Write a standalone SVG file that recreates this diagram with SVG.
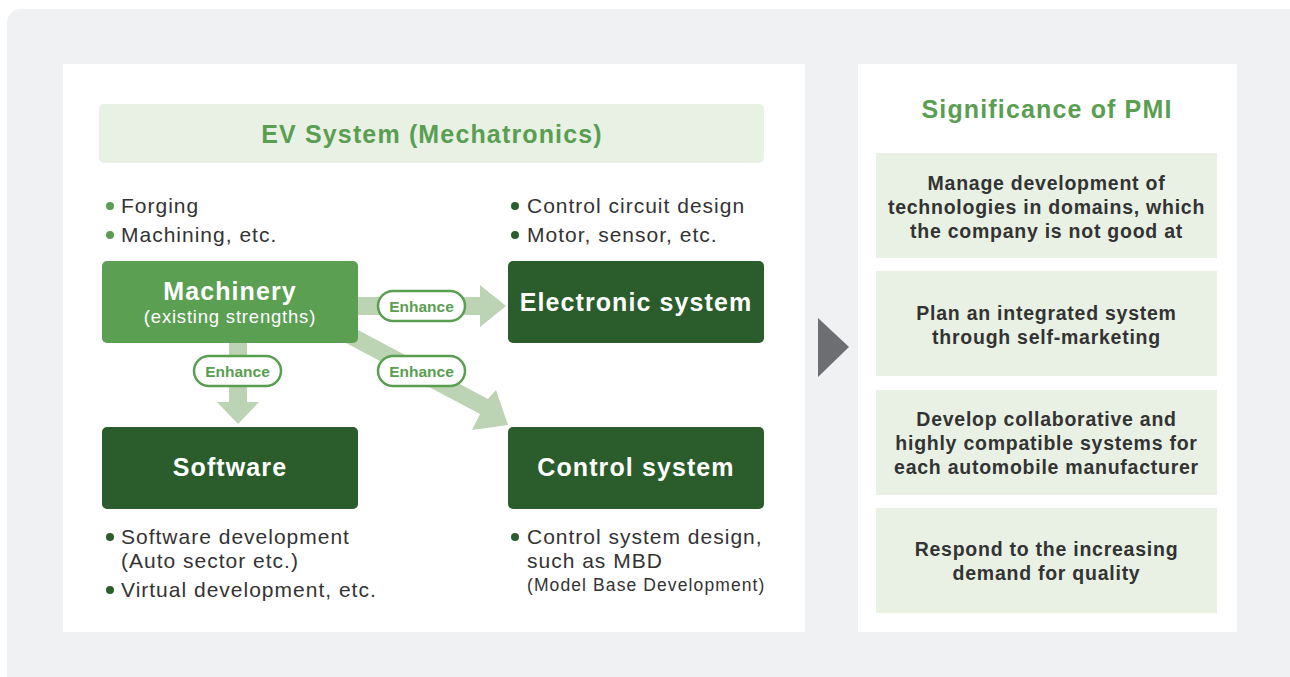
<svg xmlns="http://www.w3.org/2000/svg" width="1290" height="677" viewBox="0 0 1290 677">
<defs>
<style>
text{font-family:"Liberation Sans",Arial,sans-serif}
.title{font-size:25px;font-weight:bold;fill:#5a9e52;text-anchor:middle;letter-spacing:1.15px}
.bul{font-size:21px;fill:#333;letter-spacing:1px}
.bsm{font-size:17.5px;fill:#333;letter-spacing:1.1px}
.dl{fill:#5a9e52}
.dd{fill:#2a5e2c}
.bx{font-size:25px;font-weight:bold;fill:#fff;text-anchor:middle;letter-spacing:1.1px}
.pill{fill:#fff;stroke:#5a9e52;stroke-width:2.5}
.pt{font-size:15.5px;font-weight:bold;fill:#5a9e52;text-anchor:middle}
.arr{fill:#bcd3b4}
.pb{fill:#e8f1e4}
.pmt{font-size:19.5px;font-weight:bold;fill:#333;text-anchor:middle;letter-spacing:0.75px}
</style>
</defs>
<rect x="7" y="9" width="1300" height="690" rx="14" fill="#f0f1f3"/>
<rect x="63" y="64" width="742" height="568" fill="#fff"/>
<rect x="858" y="64" width="379" height="568" fill="#fff"/>

<g id="header">
<rect x="99" y="104" width="665" height="59" rx="5" fill="#e8f1e4"/>
<text class="title" x="432" y="143">EV System (Mechatronics)</text>
</g>

<g id="connectors">
<path class="arr" d="M358,297 L480,297 L480,285 L506,306 L480,327 L480,315 L358,315 Z"/>
<path class="arr" d="M229,343 L247,343 L247,402 L259,402 L238,424 L217,402 L229,402 Z"/>
<path class="arr" d="M350,336 L358,330 L488,399 L496,390 L508,425 L472,430 L480,414 L346,343 Z"/>
<g id="enh1"><rect class="pill" x="378" y="291" width="87" height="30" rx="15"/><text class="pt" x="421.5" y="311.5">Enhance</text></g>
<g id="enh2"><rect class="pill" x="194" y="356" width="87" height="30" rx="15"/><text class="pt" x="237.5" y="376.5">Enhance</text></g>
<g id="enh3"><rect class="pill" x="378" y="356" width="87" height="30" rx="15"/><text class="pt" x="421.5" y="376.5">Enhance</text></g>
</g>

<g id="machinery">
<rect x="102" y="261" width="256" height="82" rx="5" fill="#5b9f53"/>
<text class="bx" x="230" y="300">Machinery</text>
<text x="230" y="323" font-size="18.5" fill="#fff" text-anchor="middle" letter-spacing="0.8">(existing strengths)</text>
</g>
<g id="machinery-notes">
<circle class="dl" cx="110" cy="206" r="4"/><text class="bul" x="121" y="213">Forging</text>
<circle class="dl" cx="110" cy="235" r="4"/><text class="bul" x="121" y="242">Machining, etc.</text>
</g>

<g id="electronic">
<rect x="508" y="261" width="256" height="82" rx="5" fill="#2a5c2c"/>
<text class="bx" x="636" y="311">Electronic system</text>
</g>
<g id="electronic-notes">
<circle class="dd" cx="515" cy="206" r="4"/><text class="bul" x="527" y="213">Control circuit design</text>
<circle class="dd" cx="515" cy="235" r="4"/><text class="bul" x="527" y="242">Motor, sensor, etc.</text>
</g>

<g id="software">
<rect x="102" y="427" width="256" height="82" rx="5" fill="#2a5c2c"/>
<text class="bx" x="230" y="476">Software</text>
</g>
<g id="software-notes">
<circle class="dd" cx="110" cy="537" r="4"/><text class="bul" x="121" y="544">Software development</text>
<text class="bul" x="121" y="568">(Auto sector etc.)</text>
<circle class="dd" cx="110" cy="590" r="4"/><text class="bul" x="121" y="597">Virtual development, etc.</text>
</g>

<g id="control">
<rect x="508" y="427" width="256" height="82" rx="5" fill="#2a5c2c"/>
<text class="bx" x="636" y="476">Control system</text>
</g>
<g id="control-notes">
<circle class="dd" cx="515" cy="537" r="4"/><text class="bul" x="527" y="544">Control system design,</text>
<text class="bul" x="527" y="568">such as MBD</text>
<text class="bsm" x="527" y="591">(Model Base Development)</text>
</g>

<g id="pointer"><polygon points="818,318 849,347 818,377" fill="#6d6e71"/></g>

<g id="pmi">
<text class="title" x="1047" y="118">Significance of PMI</text>
<g id="pmi1"><rect class="pb" x="876" y="153" width="341" height="105"/>
<text class="pmt" x="1046.5" y="190">Manage development of</text>
<text class="pmt" x="1046.5" y="214">technologies in domains, which</text>
<text class="pmt" x="1046.5" y="238">the company is not good at</text></g>
<g id="pmi2"><rect class="pb" x="876" y="271" width="341" height="105"/>
<text class="pmt" x="1046.5" y="320">Plan an integrated system</text>
<text class="pmt" x="1046.5" y="344">through self-marketing</text></g>
<g id="pmi3"><rect class="pb" x="876" y="390" width="341" height="105"/>
<text class="pmt" x="1046.5" y="426">Develop collaborative and</text>
<text class="pmt" x="1046.5" y="450">highly compatible systems for</text>
<text class="pmt" x="1046.5" y="474">each automobile manufacturer</text></g>
<g id="pmi4"><rect class="pb" x="876" y="508" width="341" height="105"/>
<text class="pmt" x="1046.5" y="556">Respond to the increasing</text>
<text class="pmt" x="1046.5" y="580">demand for quality</text></g>
</g>
</svg>
